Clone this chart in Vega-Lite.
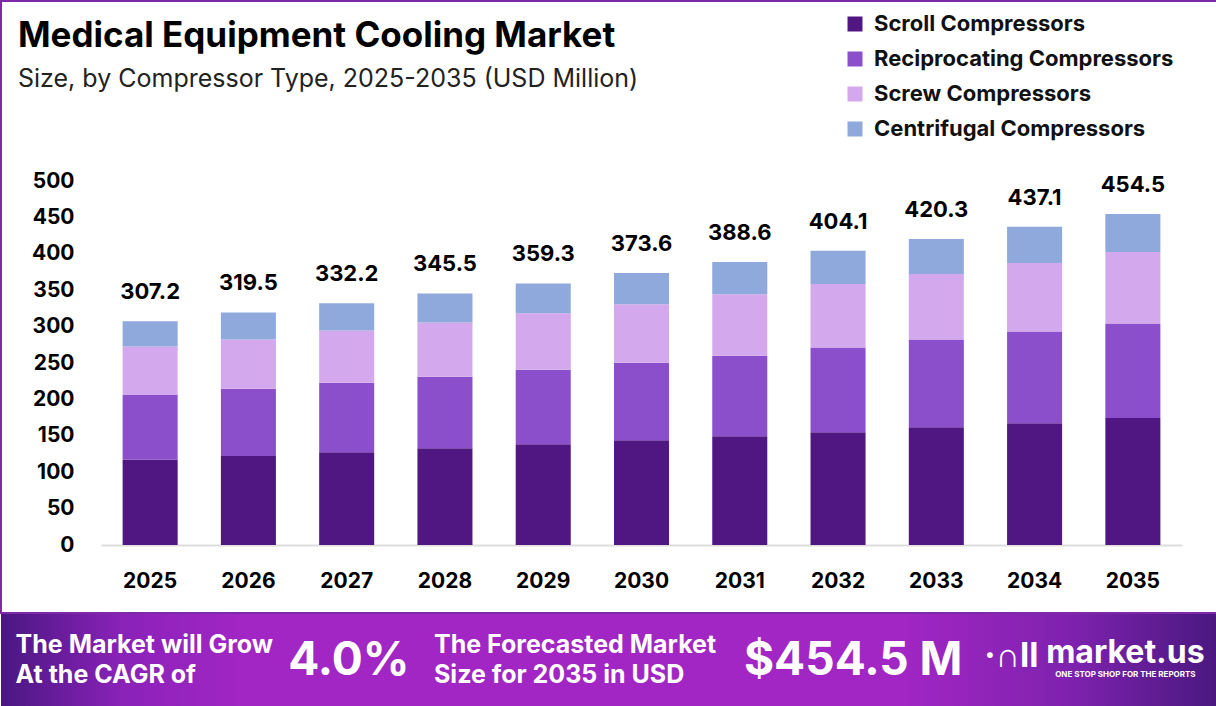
{
  "$schema": "https://vega.github.io/schema/vega-lite/v6.json",
  "padding": 0,
  "spacing": 0,
  "background": "white",
  "config": {
    "font": "Inter",
    "view": {"stroke": null}
  },
  "datasets": {
    "market": [
      {"year": "2025", "type": "Scroll Compressors", "value": 117.6},
      {"year": "2025", "type": "Reciprocating Compressors", "value": 88.6},
      {"year": "2025", "type": "Screw Compressors", "value": 66.4},
      {"year": "2025", "type": "Centrifugal Compressors", "value": 34.6},
      {"year": "2026", "type": "Scroll Compressors", "value": 122.2},
      {"year": "2026", "type": "Reciprocating Compressors", "value": 92.3},
      {"year": "2026", "type": "Screw Compressors", "value": 67.8},
      {"year": "2026", "type": "Centrifugal Compressors", "value": 37.2},
      {"year": "2027", "type": "Scroll Compressors", "value": 127.3},
      {"year": "2027", "type": "Reciprocating Compressors", "value": 95.5},
      {"year": "2027", "type": "Screw Compressors", "value": 71.9},
      {"year": "2027", "type": "Centrifugal Compressors", "value": 37.5},
      {"year": "2028", "type": "Scroll Compressors", "value": 132.8},
      {"year": "2028", "type": "Reciprocating Compressors", "value": 98.3},
      {"year": "2028", "type": "Screw Compressors", "value": 74.7},
      {"year": "2028", "type": "Centrifugal Compressors", "value": 39.7},
      {"year": "2029", "type": "Scroll Compressors", "value": 138.4},
      {"year": "2029", "type": "Reciprocating Compressors", "value": 102.4},
      {"year": "2029", "type": "Screw Compressors", "value": 77.5},
      {"year": "2029", "type": "Centrifugal Compressors", "value": 41.0},
      {"year": "2030", "type": "Scroll Compressors", "value": 143.9},
      {"year": "2030", "type": "Reciprocating Compressors", "value": 106.5},
      {"year": "2030", "type": "Screw Compressors", "value": 80.3},
      {"year": "2030", "type": "Centrifugal Compressors", "value": 42.9},
      {"year": "2031", "type": "Scroll Compressors", "value": 149.4},
      {"year": "2031", "type": "Reciprocating Compressors", "value": 110.7},
      {"year": "2031", "type": "Screw Compressors", "value": 84.4},
      {"year": "2031", "type": "Centrifugal Compressors", "value": 44.1},
      {"year": "2032", "type": "Scroll Compressors", "value": 155.0},
      {"year": "2032", "type": "Reciprocating Compressors", "value": 116.2},
      {"year": "2032", "type": "Screw Compressors", "value": 87.2},
      {"year": "2032", "type": "Centrifugal Compressors", "value": 45.7},
      {"year": "2033", "type": "Scroll Compressors", "value": 161.9},
      {"year": "2033", "type": "Reciprocating Compressors", "value": 120.4},
      {"year": "2033", "type": "Screw Compressors", "value": 89.9},
      {"year": "2033", "type": "Centrifugal Compressors", "value": 48.1},
      {"year": "2034", "type": "Scroll Compressors", "value": 167.4},
      {"year": "2034", "type": "Reciprocating Compressors", "value": 125.9},
      {"year": "2034", "type": "Screw Compressors", "value": 94.1},
      {"year": "2034", "type": "Centrifugal Compressors", "value": 49.7},
      {"year": "2035", "type": "Scroll Compressors", "value": 174.3},
      {"year": "2035", "type": "Reciprocating Compressors", "value": 130.1},
      {"year": "2035", "type": "Screw Compressors", "value": 98.2},
      {"year": "2035", "type": "Centrifugal Compressors", "value": 51.9}
    ],
    "banner": [
      {"slot": 1, "part": "cagr_label", "txt": "The Market will Grow\nAt the CAGR of"},
      {"slot": 2, "part": "cagr", "txt": "4.0%"},
      {"slot": 3, "part": "size_label", "txt": "The Forecasted Market\nSize for 2035 in USD"},
      {"slot": 4, "part": "size", "txt": "$454.5 M"},
      {"slot": 5, "part": "icon", "txt": "·∩ll"},
      {"slot": 5, "part": "brand", "txt": "market.us"},
      {"slot": 5, "part": "tagline", "txt": "ONE STOP SHOP FOR THE REPORTS"}
    ]
  },
  "vconcat": [
    {
      "width": 1216,
      "height": 612,
      "view": {"stroke": "#7D2AA9", "strokeWidth": 2, "fill": "white"},
      "title": {
        "text": "Medical Equipment Cooling Market",
        "subtitle": "Size, by Compressor Type, 2025-2035 (USD Million)",
        "anchor": "start",
        "frame": "group",
        "orient": "top",
        "offset": -91,
        "dx": 17,
        "fontSize": 35,
        "fontWeight": "bold",
        "color": "#000000",
        "subtitleFontSize": 25,
        "subtitleFontWeight": "normal",
        "subtitleColor": "#222222",
        "subtitlePadding": 13
      },
      "data": {"name": "market"},
      "transform": [
        {"calculate": "indexof(['Scroll Compressors','Reciprocating Compressors','Screw Compressors','Centrifugal Compressors'], datum.type)", "as": "ord"}
      ],
      "encoding": {
        "x": {
          "field": "year",
          "type": "ordinal",
          "title": null,
          "scale": {"range": [100, 1181], "paddingInner": 0.44, "paddingOuter": 0.22},
          "axis": {
            "orient": "bottom",
            "offset": -68,
            "domainColor": "#dddddd",
            "domainWidth": 2,
            "ticks": false,
            "labelPadding": 25,
            "labelFontSize": 21,
            "labelFontWeight": "bold",
            "labelColor": "#000000",
            "labelAngle": 0
          }
        }
      },
      "layer": [
        {
          "mark": {"type": "bar"},
          "encoding": {
            "y": {
              "field": "value",
              "type": "quantitative",
              "stack": "zero",
              "title": null,
              "scale": {"domain": [0, 500], "range": [544, 180]},
              "axis": {
                "orient": "left",
                "offset": -100,
                "domain": false,
                "ticks": false,
                "tickSize": 0,
                "grid": false,
                "labelPadding": 27,
                "labelFontSize": 21,
                "labelFontWeight": "bold",
                "labelColor": "#000000",
                "values": [0, 50, 100, 150, 200, 250, 300, 350, 400, 450, 500]
              }
            },
            "color": {
              "field": "type",
              "type": "nominal",
              "sort": ["Scroll Compressors", "Reciprocating Compressors", "Screw Compressors", "Centrifugal Compressors"],
              "scale": {"range": ["#501681", "#8C4FCB", "#D4A8EC", "#8FA9DC"]},
              "legend": {
                "orient": "none",
                "legendX": 843,
                "legendY": 12,
                "title": null,
                "symbolType": "square",
                "symbolSize": 225,
                "symbolStrokeWidth": 0,
                "labelFontSize": 22,
                "labelFontWeight": "bold",
                "labelColor": "#111111",
                "labelOffset": 8,
                "labelLimit": 400,
                "rowPadding": 13
              }
            },
            "order": {"field": "ord"}
          }
        },
        {
          "transform": [
            {"aggregate": [{"op": "sum", "field": "value", "as": "total"}], "groupby": ["year"]}
          ],
          "mark": {"type": "text", "fontSize": 22, "fontWeight": "bold", "color": "#000000", "baseline": "alphabetic", "dy": -22},
          "encoding": {
            "y": {"field": "total", "type": "quantitative", "title": null},
            "text": {"field": "total", "type": "quantitative", "format": ".1f"}
          }
        }
      ]
    },
    {
      "width": 1216,
      "height": 94,
      "view": {
        "stroke": null,
        "fill": {
          "gradient": "linear",
          "x1": 0, "y1": 0, "x2": 1, "y2": 0,
          "stops": [
            {"offset": 0, "color": "#4A1782"},
            {"offset": 0.1, "color": "#8A22B8"},
            {"offset": 0.2, "color": "#A226C4"},
            {"offset": 0.74, "color": "#A226C4"},
            {"offset": 0.88, "color": "#7E22AE"},
            {"offset": 1, "color": "#4A1880"}
          ]
        }
      },
      "data": {"name": "banner"},
      "encoding": {
        "x": {"field": "slot", "type": "ordinal", "scale": {"domain": [1, 2, 3, 4, 5], "paddingInner": 0, "paddingOuter": 0}, "axis": null},
        "text": {"field": "txt"}
      },
      "layer": [
        {
          "transform": [{"filter": "datum.part === 'cagr_label'"}],
          "mark": {"type": "text", "align": "left", "baseline": "middle", "lineBreak": "\n", "lineHeight": 30, "fontSize": 25, "fontWeight": "bold", "color": "white", "dx": -107, "dy": -16}
        },
        {
          "transform": [{"filter": "datum.part === 'cagr'"}],
          "mark": {"type": "text", "align": "center", "baseline": "middle", "fontSize": 46, "fontWeight": "bold", "color": "white", "dx": -17}
        },
        {
          "transform": [{"filter": "datum.part === 'size_label'"}],
          "mark": {"type": "text", "align": "left", "baseline": "middle", "lineBreak": "\n", "lineHeight": 30, "fontSize": 25, "fontWeight": "bold", "color": "white", "dx": -175, "dy": -16}
        },
        {
          "transform": [{"filter": "datum.part === 'size'"}],
          "mark": {"type": "text", "align": "center", "baseline": "middle", "fontSize": 46, "fontWeight": "bold", "color": "white", "dx": 1}
        },
        {
          "transform": [{"filter": "datum.part === 'icon'"}],
          "mark": {"type": "text", "align": "center", "baseline": "middle", "fontSize": 34, "fontWeight": "bold", "color": "white", "dx": -84, "dy": -4}
        },
        {
          "transform": [{"filter": "datum.part === 'brand'"}],
          "mark": {"type": "text", "align": "center", "baseline": "middle", "fontSize": 32, "fontWeight": "bold", "color": "white", "dx": 30, "dy": -8}
        },
        {
          "transform": [{"filter": "datum.part === 'tagline'"}],
          "mark": {"type": "text", "align": "center", "baseline": "middle", "fontSize": 8, "fontWeight": "bold", "color": "white", "dx": 30, "dy": 14}
        }
      ]
    }
  ]
}
